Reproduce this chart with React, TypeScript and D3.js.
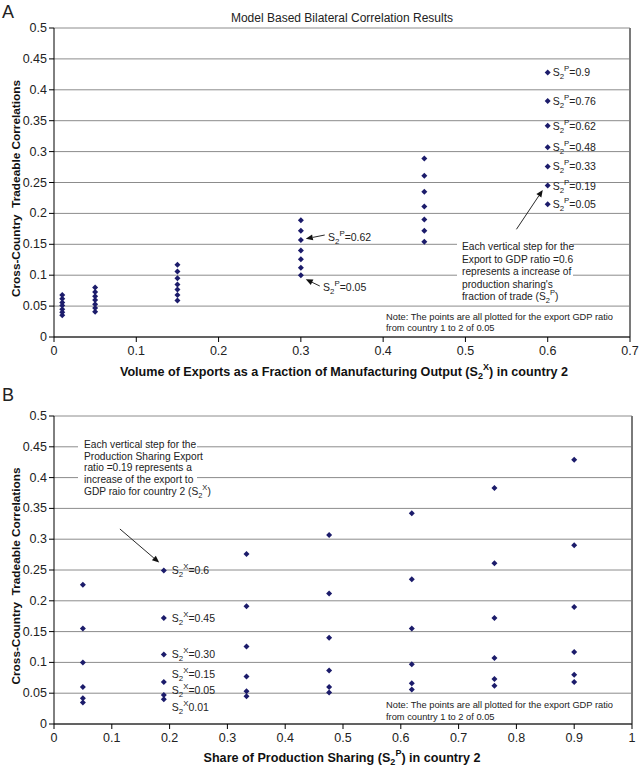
import React from "react";
import * as d3 from "d3";

// ---------- Data ----------
// Panel A: x = S2X (export share), one column of points per S2X value, one point per S2P value
const exportSharesA = [0.01, 0.05, 0.15, 0.3, 0.45, 0.6];
const prodSharesA = [0.05, 0.19, 0.33, 0.48, 0.62, 0.76, 0.9];
const prodLabelsA = ["0.05", "0.19", "0.33", "0.48", "0.62", "0.76", "0.9"];
const corrA_001 = [0.035, 0.040, 0.045, 0.051, 0.056, 0.062, 0.068];
const corrA_005 = [0.041, 0.047, 0.053, 0.060, 0.066, 0.073, 0.080];
const corrA_015 = [0.059, 0.068, 0.077, 0.085, 0.095, 0.106, 0.117];
const corrA_030 = [0.100, 0.112, 0.126, 0.140, 0.157, 0.172, 0.189];
const corrA_045 = [0.154, 0.172, 0.190, 0.211, 0.235, 0.261, 0.289];
const corrA_060 = [0.215, 0.245, 0.276, 0.307, 0.342, 0.382, 0.428];
const corrA = [corrA_001, corrA_005, corrA_015, corrA_030, corrA_045, corrA_060];

// Panel B: x = S2P (production sharing), one point per S2X value
const prodSharesB = [0.05, 0.19, 0.333, 0.476, 0.619, 0.762, 0.9];
const exportLabelsB = ["0.01", "=0.05", "=0.15", "=0.30", "=0.45", "=0.6"];
const exportLabelAnchorB = [0.028, 0.055, 0.081, 0.114, 0.172, 0.25];
const corrB_005 = [0.035, 0.042, 0.060, 0.100, 0.155, 0.226];
const corrB_019 = [0.040, 0.047, 0.068, 0.113, 0.172, 0.249];
const corrB_033 = [0.045, 0.053, 0.077, 0.126, 0.191, 0.276];
const corrB_048 = [0.051, 0.060, 0.087, 0.140, 0.212, 0.307];
const corrB_062 = [0.056, 0.066, 0.097, 0.155, 0.235, 0.342];
const corrB_076 = [0.062, 0.073, 0.107, 0.172, 0.261, 0.383];
const corrB_090 = [0.068, 0.080, 0.117, 0.190, 0.290, 0.429];
const corrB = [corrB_005, corrB_019, corrB_033, corrB_048, corrB_062, corrB_076, corrB_090];

const yTicks = [0, 0.05, 0.1, 0.15, 0.2, 0.25, 0.3, 0.35, 0.4, 0.45, 0.5];
const xTicksA = [0, 0.1, 0.2, 0.3, 0.4, 0.5, 0.6, 0.7];
const xTicksB = [0, 0.1, 0.2, 0.3, 0.4, 0.5, 0.6, 0.7, 0.8, 0.9, 1];

const FONT = "'Liberation Sans', Arial, Helvetica, sans-serif";
const DOT = "#1c1c6b";
const GRID = "#8c8c8c";

const fmt = (v: number) => (v === 0 ? "0" : String(+v.toFixed(2)));

function Diamond({ x, y }: { x: number; y: number }) {
  const r = 3;
  return <path d={`M${x},${y - r}L${x + r},${y}L${x},${y + r}L${x - r},${y}Z`} fill={DOT} />;
}

// S with subscript 2 and superscript letter
function SLabel({ x, y, sup, rest, size = 10.5 }: { x: number; y: number; sup: string; rest: string; size?: number }) {
  return (
    <text x={x} y={y} fontSize={size} fontFamily={FONT} fill="#222">
      S
      <tspan fontSize={size * 0.75} dy={3}>2</tspan>
      <tspan fontSize={size * 0.75} dy={-8}>{sup}</tspan>
      <tspan dy={5}>{rest}</tspan>
    </text>
  );
}

function Arrow({ x1, y1, x2, y2 }: { x1: number; y1: number; x2: number; y2: number }) {
  const ang = Math.atan2(y2 - y1, x2 - x1);
  const L = 7, W = 3;
  const bx = x2 - L * Math.cos(ang), by = y2 - L * Math.sin(ang);
  const px = -Math.sin(ang) * W, py = Math.cos(ang) * W;
  return (
    <g>
      <line x1={x1} y1={y1} x2={bx} y2={by} stroke="#111" strokeWidth={0.9} />
      <path d={`M${x2},${y2}L${bx + px},${by + py}L${bx - px},${by - py}Z`} fill="#111" />
    </g>
  );
}

function Frame({ x, y, xTicks }: any) {
  const [x0, x1] = x.range();
  const [y0, y1] = y.range();
  return (
    <g>
      {yTicks.map((t) => (
        <line key={"g" + t} x1={x0} x2={x1} y1={y(t)} y2={y(t)} stroke={GRID} strokeWidth={1} />
      ))}
      <line x1={x1} x2={x1} y1={y1} y2={y0} stroke="#7a7a7a" strokeWidth={2} />
      <line x1={x0} x2={x0} y1={y1} y2={y0} stroke="#000" strokeWidth={1} />
      <line x1={x0} x2={x1} y1={y0} y2={y0} stroke="#000" strokeWidth={1} />
      {yTicks.map((t) => (
        <g key={"yt" + t}>
          <line x1={x0 - 5} x2={x0} y1={y(t)} y2={y(t)} stroke="#000" />
          <text x={x0 - 7} y={y(t) + 4} fontSize={12.5} textAnchor="end" fontFamily={FONT} fill="#222">
            {fmt(t)}
          </text>
        </g>
      ))}
      {xTicks.map((t: number) => (
        <g key={"xt" + t}>
          <line x1={x(t)} x2={x(t)} y1={y0} y2={y0 + 5} stroke="#000" />
          <text x={x(t)} y={y0 + 18} fontSize={12.5} textAnchor="middle" fontFamily={FONT} fill="#222">
            {fmt(t)}
          </text>
        </g>
      ))}
      <text
        transform={`translate(20,${(y0 + y1) / 2 + 6}) rotate(-90)`}
        fontSize={11.8}
        fontWeight="bold"
        textAnchor="middle"
        fontFamily={FONT}
        fill="#111"
      >
        Cross-Country{"\u00a0\u00a0"}Tradeable Correlations
      </text>
    </g>
  );
}

export default function App() {
  const xA = d3.scaleLinear().domain([0, 0.7]).range([54, 630]);
  const yA = d3.scaleLinear().domain([0, 0.5]).range([337, 28]);
  const xB = d3.scaleLinear().domain([0, 1]).range([54, 632]);
  const yB = d3.scaleLinear().domain([0, 0.5]).range([724, 416]);

  return (
    <svg
      width={640}
      height={770}
      style={{ position: "absolute", left: 0, top: 0, background: "#fff" }}
      fontFamily={FONT}
    >
      <rect width={640} height={770} fill="#fff" />
      {/* ---------- Panel A ---------- */}
      <text x={2} y={18} fontSize={18} fontFamily={FONT} fill="#222">A</text>
      <text x={342} y={22} fontSize={12} textAnchor="middle" fontFamily={FONT} fill="#222">
        Model Based Bilateral Correlation Results
      </text>
      <Frame x={xA} y={yA} xTicks={xTicksA} />
      {/* annotation box A */}
      <rect x={457} y={239} width={116} height={64} fill="#fff" />
      <g fontSize={10.2} fontFamily={FONT} fill="#222">
        <text x={462} y={250}>Each vertical step for the</text>
        <text x={462} y={262.5}>Export to GDP ratio =0.6</text>
        <text x={462} y={275}>represents a increase of</text>
        <text x={462} y={287.5}>production sharing's</text>
        <text x={462} y={300}>
          fraction of trade (S
          <tspan fontSize={7.5} dy={3}>2</tspan>
          <tspan fontSize={7.5} dy={-8}>P</tspan>
          <tspan dy={5}>)</tspan>
        </text>
      </g>
      <g fontSize={9.3} fontFamily={FONT} fill="#222">
        <text x={386} y={320}>Note: The points are all plotted for the export GDP ratio</text>
        <text x={386} y={331}>from country 1 to 2 of 0.05</text>
      </g>
      {exportSharesA.map((sx, i) =>
        corrA[i].map((v, j) => <Diamond key={`a${i}-${j}`} x={xA(sx)} y={yA(v)} />)
      )}
      {prodLabelsA.map((lab, j) => (
        <SLabel key={"pl" + j} x={xA(0.6) + 5} y={yA(corrA_060[j]) + 4} sup="P" rest={"=" + lab} />
      ))}
      <Arrow x1={xA(0.329)} y1={yA(0.165)} x2={xA(0.306)} y2={yA(0.159)} />
      <SLabel x={xA(0.333)} y={yA(0.156)} sup="P" rest="=0.62" />
      <Arrow x1={xA(0.323)} y1={yA(0.0825)} x2={xA(0.306)} y2={yA(0.0934)} />
      <SLabel x={xA(0.327)} y={yA(0.075)} sup="P" rest="=0.05" />
      <Arrow x1={xA(0.562)} y1={yA(0.1743)} x2={xA(0.594)} y2={yA(0.238)} />
      <text x={344} y={376} fontSize={12.6} fontWeight="bold" textAnchor="middle" fontFamily={FONT} fill="#111">
        Volume of Exports as a Fraction of Manufacturing Output (S
        <tspan fontSize={9} dy={3}>2</tspan>
        <tspan fontSize={9} dy={-9}>X</tspan>
        <tspan dy={6}>) in country 2</tspan>
      </text>

      {/* ---------- Panel B ---------- */}
      <text x={2} y={401} fontSize={18} fontFamily={FONT} fill="#222">B</text>
      <Frame x={xB} y={yB} xTicks={xTicksB} />
      <rect x={78} y={436} width={119} height={63} fill="#fff" />
      <g fontSize={10.2} fontFamily={FONT} fill="#222">
        <text x={84} y={448}>Each vertical step for the</text>
        <text x={84} y={459.7}>Production Sharing Export</text>
        <text x={84} y={471.3}>ratio =0.19 represents a</text>
        <text x={84} y={483.3}>increase of the export to</text>
        <text x={84} y={495}>
          GDP raio for country 2 (S
          <tspan fontSize={7.5} dy={3}>2</tspan>
          <tspan fontSize={7.5} dy={-8}>X</tspan>
          <tspan dy={5}>)</tspan>
        </text>
      </g>
      <g fontSize={9.3} fontFamily={FONT} fill="#222">
        <text x={386} y={708}>Note: The points are all plotted for the export GDP ratio</text>
        <text x={386} y={719.5}>from country 1 to 2 of 0.05</text>
      </g>
      {prodSharesB.map((sp, i) =>
        corrB[i].map((v, j) => <Diamond key={`b${i}-${j}`} x={xB(sp)} y={yB(v)} />)
      )}
      {exportLabelsB.map((lab, j) => (
        <SLabel key={"xl" + j} x={xB(0.19) + 8} y={yB(exportLabelAnchorB[j]) + 4} sup="X" rest={lab} />
      ))}
      <Arrow x1={xB(0.114)} y1={yB(0.3166)} x2={xB(0.182)} y2={yB(0.262)} />
      <text x={342} y={762} fontSize={12.6} fontWeight="bold" textAnchor="middle" fontFamily={FONT} fill="#111">
        Share of Production Sharing (S
        <tspan fontSize={9} dy={3}>2</tspan>
        <tspan fontSize={9} dy={-9}>P</tspan>
        <tspan dy={6}>) in country 2</tspan>
      </text>
    </svg>
  );
}
